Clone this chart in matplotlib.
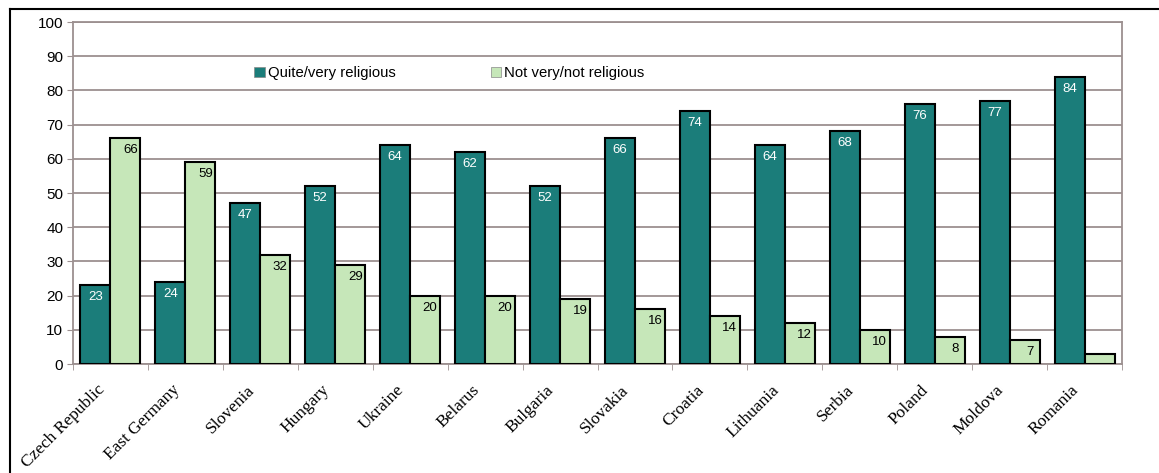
import matplotlib
matplotlib.use("Agg")
import matplotlib.pyplot as plt
import matplotlib.transforms as mtransforms
import numpy as np
from matplotlib.lines import Line2D
from matplotlib.patches import Patch

countries = ["Czech Republic", "East Germany", "Slovenia", "Hungary", "Ukraine",
             "Belarus", "Bulgaria", "Slovakia", "Croatia", "Lithuania", "Serbia",
             "Poland", "Moldova", "Romania"]
religious = [23, 24, 47, 52, 64, 62, 52, 66, 74, 64, 68, 76, 77, 84]
not_religious = [66, 59, 32, 29, 20, 20, 19, 16, 14, 12, 10, 8, 7, 3]
show_label_not = [True] * 13 + [False]
yticks = list(range(0, 101, 10))

teal = "#1b7d7a"
lgreen = "#c6e7b9"
grid_c = "#9c9090"

fig = plt.figure(figsize=(11.59, 4.73), dpi=100)
ax = fig.add_axes([73/1159, 1-364/473, (1122-73)/1159, (364-22)/473])

x = np.arange(len(countries))
w = 0.4
ax.bar(x - w/2, religious, w, color=teal, edgecolor="black", linewidth=1.5, zorder=3)
ax.bar(x + w/2, not_religious, w, color=lgreen, edgecolor="black", linewidth=1.5, zorder=3)

for xi, v in zip(x, religious):
    ax.annotate(str(v), (xi - w/2, v), xytext=(0, -12), textcoords="offset pixels",
                ha="center", va="center", color="white", fontsize=9.5,
                family="Liberation Sans", zorder=4)
for xi, v, s in zip(x, not_religious, show_label_not):
    if s:
        ax.annotate(str(v), (xi + w/2, v), xytext=(5, -12), textcoords="offset pixels",
                    ha="center", va="center", color="black", fontsize=9.5,
                    family="Liberation Sans", zorder=4)

ax.set_xlim(-0.5, len(countries) - 0.5)
ax.set_ylim(0, 100)
ax.set_yticks(yticks)
ax.set_yticklabels([str(t) for t in yticks], family="Liberation Sans", fontsize=11)
ax.yaxis.grid(True, color=grid_c, linewidth=1.3, zorder=0)
ax.set_axisbelow(True)

ax.set_xticks(x)
ax.set_xticklabels(countries, rotation=45, ha="right", rotation_mode="anchor",
                   family="Liberation Serif", fontsize=12.5)
ax.tick_params(axis="x", length=0, pad=10)
offset = mtransforms.ScaledTranslation(-14/100, -4/100, fig.dpi_scale_trans)
for lab in ax.get_xticklabels():
    lab.set_transform(lab.get_transform() + offset)
ax.set_xticks(np.arange(-0.5, len(countries), 1), minor=True)
ax.tick_params(axis="x", which="minor", length=4, color=grid_c)
ax.tick_params(axis="y", length=4, color=grid_c, pad=3)

for s in ["left", "right", "top", "bottom"]:
    ax.spines[s].set_color(grid_c)
    ax.spines[s].set_linewidth(1.3)

handles = [Patch(facecolor=teal, edgecolor="#888888", linewidth=0.5),
           Patch(facecolor=lgreen, edgecolor="#888888", linewidth=0.5)]
ax.legend(handles, ["Quite/very religious", "Not very/not religious"], ncol=2,
          loc="center left", bbox_to_anchor=(168/1049, 1-(73-22)/342),
          frameon=False, handlelength=0.7, handleheight=0.7, handletextpad=0.2,
          columnspacing=6.4, prop={"family": "Liberation Sans", "size": 10.7})

# outer frame (left and top)
fig.add_artist(Line2D([10/1159, 10/1159], [0, 1-9/473], color="black", linewidth=1.5,
                      transform=fig.transFigure))
fig.add_artist(Line2D([10/1159, 1], [1-9/473, 1-9/473], color="black", linewidth=1.5,
                      transform=fig.transFigure))

fig.savefig("out.png", dpi=100)
